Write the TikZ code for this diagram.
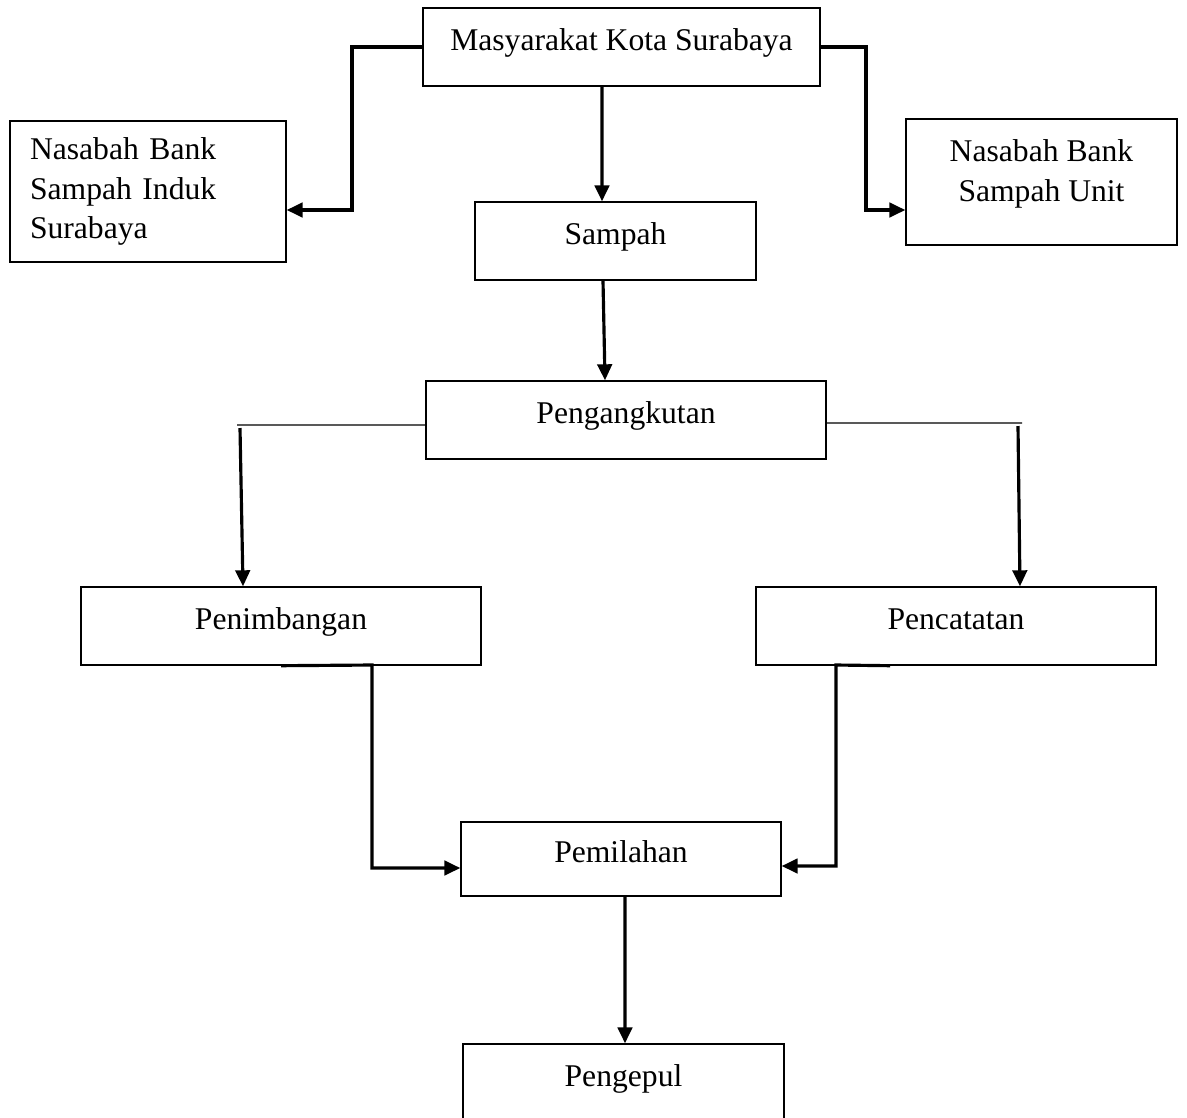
\documentclass[tikz,border=0pt]{standalone}
\usepackage{fontspec}
\setmainfont{Liberation Serif}
\usetikzlibrary{positioning, arrows.meta}

\begin{document}
\begin{tikzpicture}[
  x=0.02cm, y=-0.02cm,
  every node/.style={
    font=\fontsize{18}{22.7}\selectfont
  },
  frame/.style={
    draw,
    line width=0.8pt,
    inner sep=0mm
  },
  stage/.style={
    frame,
    minimum height=15.6mm,
    text height=4.8mm,
    text depth=3.6mm
  },
  flow arrow/.style={
    -{Triangle[length=3.2mm,width=2.9mm]},
    line width=1.8pt
  },
  split line/.style={
    line width=0.7pt
  }
]
\clip (0,0) rectangle (1187,1117);

\node(mkt)[stage, minimum width=79.4mm] at (621.5,47) {Masyarakat Kota Surabaya};
\node(induk)[frame, minimum width=55.2mm, minimum height=28.2mm, text width=47.2mm, inner xsep=4mm, align=left] at (148,191.5) {Nasabah Bank\\Sampah Induk\\Surabaya};
\node(unit)[frame, minimum width=54.2mm, minimum height=25.2mm, align=center] at (1041.5,182) {Nasabah Bank\\Sampah Unit\rule[-4.7mm]{0pt}{0pt}};
\node(sampah)[stage, minimum width=56.2mm] at (615.5,241) {Sampah};
\node(angkut)[stage, minimum width=80mm] at (626,420) {Pengangkutan};
\node(timbang)[stage, minimum width=80mm] at (281,626) {Penimbangan};
\node(catat)[stage, minimum width=80mm] at (956,626) {Pencatatan};
\node(pilah)[stage, minimum width=64mm, minimum height=14.8mm] at (621,859) {Pemilahan};
\node(pengepul)[stage, minimum width=64.2mm] at (623.5,1083) {Pengepul};

\coordinate (lknee) at (352,47);
\coordinate (rknee) at (866,47);
\coordinate (lsplit) at (237,425);
\coordinate (rsplit) at (1022,423);
\coordinate (tknee) at (372,665);
\coordinate (cknee) at (836,665);

\draw[flow arrow] (mkt.west) -- (lknee) |- ([yshift=-3.7mm]induk.east);
\draw[flow arrow] (mkt.east) -- (rknee) |- ([yshift=-5.6mm]unit.west);
\draw[flow arrow] ([xshift=-3.9mm]mkt.south) -- ([xshift=-2.7mm]sampah.north);
\draw[flow arrow] ([xshift=-2.5mm]sampah.south) -- ([xshift=-4.2mm]angkut.north);

\draw[split line] ([yshift=-1mm]angkut.west) -- (lsplit);
\draw[split line] ([yshift=-0.6mm]angkut.east) -- (rsplit);
\draw[flow arrow] ([xshift=0.6mm, yshift=-0.6mm]lsplit) -- ([xshift=-7.6mm]timbang.north);
\draw[flow arrow] ([xshift=-0.8mm, yshift=-0.6mm]rsplit) -- ([xshift=12.8mm]catat.north);

\draw[flow arrow] (timbang.south) -- (tknee) |- ([yshift=-1.8mm]pilah.west);
\draw[flow arrow] ([xshift=-13.2mm]catat.south) -- (cknee) |- ([yshift=-1.4mm]pilah.east);
\draw[flow arrow] ([xshift=0.8mm]pilah.south) -- ([xshift=0.3mm]pengepul.north);

\end{tikzpicture}
\end{document}
